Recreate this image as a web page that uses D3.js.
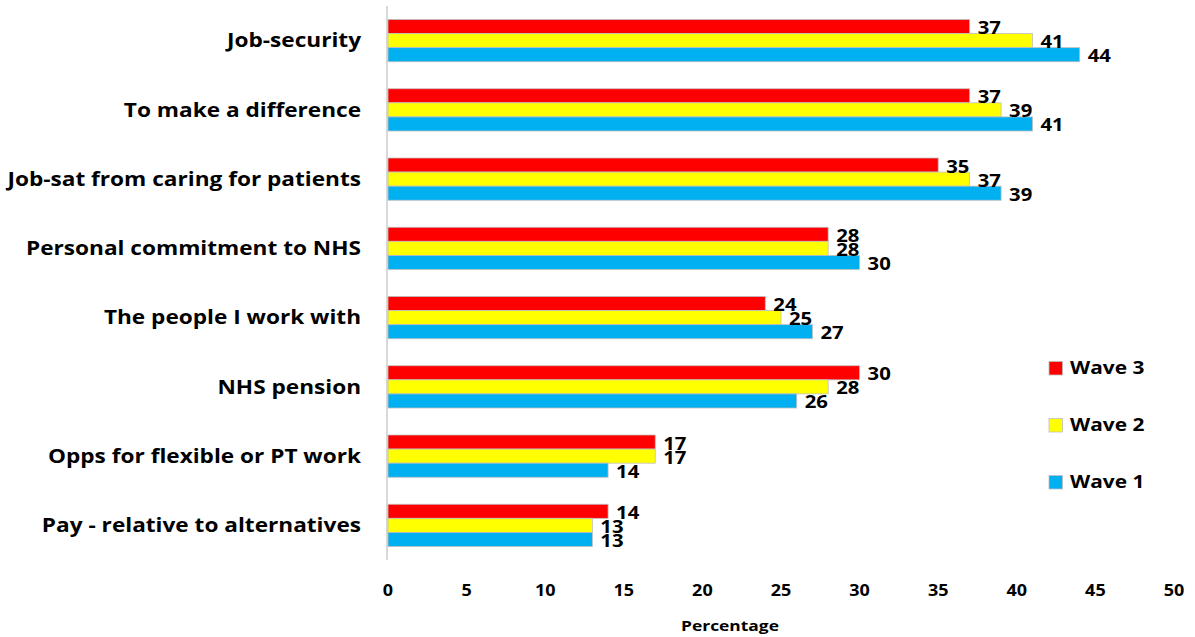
<!DOCTYPE html>
<html><head><meta charset="utf-8">
<script src="https://cdn.jsdelivr.net/npm/d3@7"></script>
<style>body{margin:0;background:#fff}svg{display:block}text{font-family:"Open Sans",sans-serif;font-weight:bold;fill:#000}</style>
</head><body><svg id="c" width="1195" height="637"></svg>
<script>
const categories = ["Job-security","To make a difference","Job-sat from caring for patients","Personal commitment to NHS","The people I work with","NHS pension","Opps for flexible or PT work","Pay - relative to alternatives"];
const seriesNames = ["Wave 3","Wave 2","Wave 1"];
const wave3 = [37,37,35,28,24,30,17,14];
const wave2 = [41,39,37,28,25,28,17,13];
const wave1 = [44,41,39,30,27,26,14,13];
const colors = ["#FF0000","#FFFF00","#00B0F0"];
const xTicks = [0,5,10,15,20,25,30,35,40,45,50];

const series = [wave3, wave2, wave1];
const SX = 1.16;
const svg = d3.select("#c");
const x = d3.scaleLinear().domain([0,50]).range([388,1174]);
const y = d3.scaleBand().domain(categories).range([6,560]).paddingInner(27/69.25).paddingOuter(13.5/69.25);
const y1 = d3.scaleBand().domain(seriesNames).range([0,y.bandwidth()]);

function label(parent, tx, ty, txt, size, anchor, dy){
  return parent.append("text")
    .attr("transform",`translate(${tx},${ty}) scale(${SX},1)`)
    .attr("text-anchor",anchor||"start").attr("dy",dy||0)
    .attr("font-size",size).text(txt);
}

// axis line
svg.append("line").attr("x1",387).attr("x2",387).attr("y1",6).attr("y2",560).attr("stroke","#D9D9D9").attr("stroke-width",2);

categories.forEach((c,i)=>{
  const g = svg.append("g").attr("transform",`translate(0,${y(c)})`);
  series.forEach((s,j)=>{
    g.append("rect").attr("x",x(0)).attr("y",y1(seriesNames[j])).attr("width",x(s[i])-x(0)).attr("height",y1.bandwidth())
      .attr("fill",colors[j]).attr("stroke","#BFBFBF").attr("stroke-width",0.8);
  });
  series.forEach((s,j)=>{
    label(g, x(s[i])+8, y1(seriesNames[j])+y1.bandwidth()/2+7.5, s[i], 17.5);
  });
  label(svg, 361, y(c)+y.bandwidth()/2, c, 19.5, "end", "0.35em");
});

// x tick labels
xTicks.forEach(t=>label(svg, x(t), 596, t, 15.5, "middle"));

label(svg, 730, 631, "Percentage", 15, "middle");

// legend
const ly = [368,425,482];
seriesNames.forEach((n,j)=>{
  svg.append("rect").attr("x",1049).attr("y",ly[j]-6.5).attr("width",13.5).attr("height",13.5).attr("fill",colors[j]).attr("stroke","#BFBFBF").attr("stroke-width",0.8);
  label(svg, 1070, ly[j], n, 18, "start", "0.35em");
});
</script></body></html>
